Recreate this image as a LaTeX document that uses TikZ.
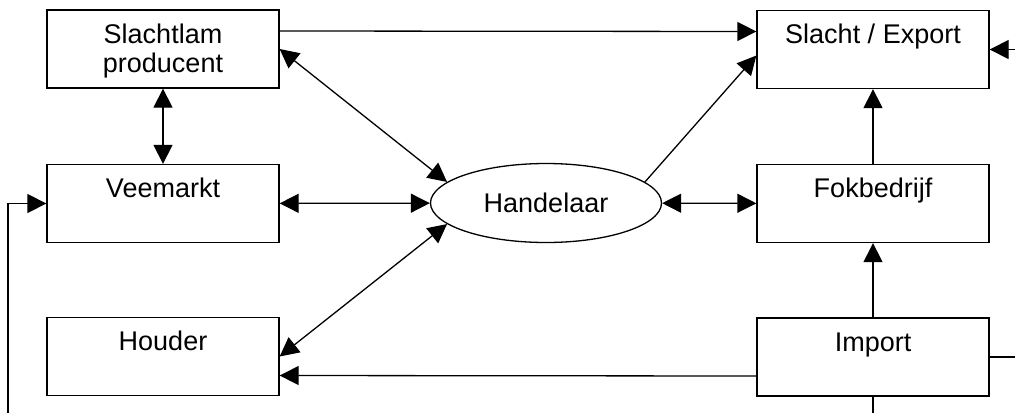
\documentclass[tikz,border=0pt]{standalone}
\usepackage{fontspec}
\setmainfont{Liberation Sans}
\usepackage{tikz}
\usetikzlibrary{arrows.meta,shapes.geometric}
\newcommand\lnstrut{\rule[-3pt]{0pt}{14.5pt}}

\begin{document}
\begin{tikzpicture}[x=0.5pt,y=-0.5pt,line width=0.65pt,>={Triangle[length=9.5pt,width=9.5pt]},
    box/.style={rectangle,draw,minimum width=116pt,minimum height=39pt,inner sep=0pt,align=center,
      font=\fontsize{13.5}{14.5}\selectfont},
    handel/.style={ellipse,draw,minimum width=115.5pt,minimum height=39.5pt,inner sep=0pt,
      font=\fontsize{13.5}{14.5}\selectfont}]
    \useasboundingbox (0,0) rectangle (1015,412);
    \node[box](slachtlam) at (163,49){\lnstrut Slachtlam\\\lnstrut producent};
    \node[box](veemarkt) at (163,203.5){\lnstrut Veemarkt\\\lnstrut};
    \node[box](houder) at (163,356.5){\lnstrut Houder\\\lnstrut};
    \node[box](slacht) at (873,49.5){\lnstrut Slacht / Export\\\lnstrut};
    \node[box](fok) at (873,203.5){\lnstrut Fokbedrijf\\\lnstrut};
    \node[box](import) at (873,357){\lnstrut Import\\\lnstrut};
    \node[handel](handelaar) at (546,203){Handelaar};
    \coordinate(rechts) at (1025,357);
    \coordinate(onder) at (873,425);
    \coordinate(links) at (8,425);
    % verbindingen
    \draw[->] ([yshift=9pt]slachtlam.east) -- ([yshift=9pt]slacht.west);
    \draw[<->] (slachtlam) -- (veemarkt);
    \draw[<->] (slachtlam.east) -- (handelaar.168);
    \draw[<->] (veemarkt) -- (handelaar);
    \draw[<->] (houder.east) -- (handelaar.192);
    \draw[->] (handelaar.12) -- ([yshift=-3pt]slacht.west);
    \draw[<->] (handelaar) -- (fok);
    \draw[->] (fok) -- (slacht);
    \draw[->] (import) -- (fok);
    \draw[->] ([yshift=-9.5pt]import.west) -- ([yshift=-9.5pt]houder.east);
    \draw[->] (import.east) -- (rechts) |- (slacht.east);
    \draw[->] (import.south) -- (onder) -- (links) |- (veemarkt.west);
  \end{tikzpicture}
\end{document}
